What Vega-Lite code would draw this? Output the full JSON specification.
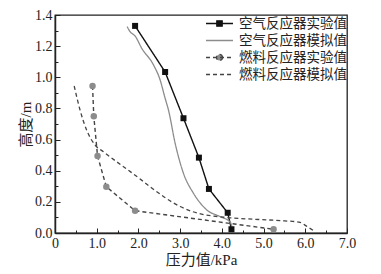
{
  "$schema": "https://vega.github.io/schema/vega-lite/v6.json",
  "width": 292,
  "height": 218,
  "autosize": {"type": "none"},
  "padding": {"left": 55, "top": 15, "right": 34, "bottom": 41},
  "background": "white",
  "config": {
    "view": {"stroke": "#222", "strokeWidth": 1.3},
    "axis": {
      "domainColor": "#222", "domainWidth": 1.5, "tickColor": "#222", "tickWidth": 1,
      "grid": false, "labelFont": "Liberation Serif", "labelFontSize": 14, "labelColor": "#222",
      "titleFont": "Liberation Serif, Noto Sans CJK SC", "titleFontSize": 15, "titleFontWeight": "normal", "titleColor": "#222"
    }
  },
  "data": {"values": [
    {"series": "空气反应器实验值", "p": 1.92, "h": 1.33},
    {"series": "空气反应器实验值", "p": 2.64, "h": 1.034},
    {"series": "空气反应器实验值", "p": 3.08, "h": 0.737},
    {"series": "空气反应器实验值", "p": 3.45, "h": 0.484},
    {"series": "空气反应器实验值", "p": 3.69, "h": 0.283},
    {"series": "空气反应器实验值", "p": 4.14, "h": 0.13},
    {"series": "空气反应器实验值", "p": 4.23, "h": 0.024},
    {"series": "空气反应器模拟值", "p": 1.73, "h": 1.325},
    {"series": "空气反应器模拟值", "p": 1.8, "h": 1.293},
    {"series": "空气反应器模拟值", "p": 1.92, "h": 1.265},
    {"series": "空气反应器模拟值", "p": 2.08, "h": 1.186},
    {"series": "空气反应器模拟值", "p": 2.36, "h": 1.08},
    {"series": "空气反应器模拟值", "p": 2.52, "h": 0.983},
    {"series": "空气反应器模拟值", "p": 2.64, "h": 0.865},
    {"series": "空气反应器模拟值", "p": 2.72, "h": 0.79},
    {"series": "空气反应器模拟值", "p": 2.88, "h": 0.576},
    {"series": "空气反应器模拟值", "p": 3.08, "h": 0.383},
    {"series": "空气反应器模拟值", "p": 3.32, "h": 0.255},
    {"series": "空气反应器模拟值", "p": 3.64, "h": 0.148},
    {"series": "空气反应器模拟值", "p": 3.96, "h": 0.105},
    {"series": "空气反应器模拟值", "p": 4.2, "h": 0.07},
    {"series": "空气反应器模拟值", "p": 4.25, "h": 0.03},
    {"series": "燃料反应器实验值", "p": 0.9, "h": 0.944},
    {"series": "燃料反应器实验值", "p": 0.93, "h": 0.75},
    {"series": "燃料反应器实验值", "p": 1.02, "h": 0.494},
    {"series": "燃料反应器实验值", "p": 1.23, "h": 0.297},
    {"series": "燃料反应器实验值", "p": 1.92, "h": 0.143},
    {"series": "燃料反应器实验值", "p": 5.24, "h": 0.024},
    {"series": "燃料反应器模拟值", "p": 0.46, "h": 0.944},
    {"series": "燃料反应器模拟值", "p": 0.6, "h": 0.79},
    {"series": "燃料反应器模拟值", "p": 0.76, "h": 0.66},
    {"series": "燃料反应器模拟值", "p": 0.96, "h": 0.565},
    {"series": "燃料反应器模拟值", "p": 1.16, "h": 0.522},
    {"series": "燃料反应器模拟值", "p": 2.04, "h": 0.347},
    {"series": "燃料反应器模拟值", "p": 2.28, "h": 0.297},
    {"series": "燃料反应器模拟值", "p": 3.0, "h": 0.17},
    {"series": "燃料反应器模拟值", "p": 3.3, "h": 0.137},
    {"series": "燃料反应器模拟值", "p": 4.1, "h": 0.1},
    {"series": "燃料反应器模拟值", "p": 4.8, "h": 0.088},
    {"series": "燃料反应器模拟值", "p": 5.5, "h": 0.078},
    {"series": "燃料反应器模拟值", "p": 5.85, "h": 0.07},
    {"series": "燃料反应器模拟值", "p": 6.05, "h": 0.04},
    {"series": "燃料反应器模拟值", "p": 6.2, "h": 0.015}
  ]},
  "encoding": {
    "x": {"field": "p", "type": "quantitative",
      "scale": {"domain": [0, 7], "nice": false},
      "axis": {"title": "压力值/kPa", "values": [0,0.5,1,1.5,2,2.5,3,3.5,4,4.5,5,5.5,6,6.5,7],
        "labelExpr": "datum.value === 0 ? '0' : (datum.value % 1 === 0 ? format(datum.value, '.1f') : '')",
        "tickSize": {"condition": {"test": "datum.value % 1 !== 0", "value": -3}, "value": -5},
        "labelPadding": 8, "titlePadding": 0, "labelFlush": false, "labelOverlap": false}},
    "y": {"field": "h", "type": "quantitative",
      "scale": {"domain": [0, 1.4], "nice": false},
      "axis": {"title": "高度/m", "values": [0,0.1,0.2,0.3,0.4,0.5,0.6,0.7,0.8,0.9,1,1.1,1.2,1.3,1.4],
        "labelExpr": "round(datum.value * 10) % 2 === 1 ? '' : format(datum.value, '.1f')",
        "tickSize": {"condition": {"test": "round(datum.value * 10) % 2 === 1", "value": -3}, "value": -5},
        "labelPadding": 8, "titlePadding": 1, "labelFlush": false, "labelOverlap": false}}
  },
  "layer": [
    {
      "transform": [{"filter": "indexof(datum.series, '实验值') >= 0"}],
      "mark": {"type": "line", "strokeWidth": 1.4},
      "encoding": {
        "color": {"field": "series", "type": "nominal",
          "scale": {"domain": ["空气反应器实验值", "空气反应器模拟值", "燃料反应器实验值", "燃料反应器模拟值"],
                    "range": ["#111111", "#8c8c8c", "#444444", "#444444"]},
          "legend": {
            "title": null, "orient": "none", "legendX": 157, "legendY": 1,
            "labelFont": "Noto Sans CJK SC", "labelFontSize": 13.5, "labelColor": "#222",
            "symbolSize": 182, "labelOffset": 12, "rowPadding": 3, "symbolStrokeWidth": 1.3,
            "encode": {"symbols": {"update": {
              "shape": {"signal": "datum.value === '空气反应器实验值' ? 'M-2,0H2M-0.4,-0.4H0.4V0.4H-0.4Z' : (datum.value === '燃料反应器实验值' ? 'M-2,0H2M0.45,0A0.45,0.45 0 1,1 -0.45,0A0.45,0.45 0 1,1 0.45,0Z' : 'M-2,0H2')"},
              "fill": {"signal": "datum.value === '空气反应器实验值' ? '#111111' : (datum.value === '燃料反应器实验值' ? '#8c8c8c' : 'transparent')"},
              "fillOpacity": {"value": 1}
            }}}
          }},
        "strokeDash": {"field": "series", "type": "nominal",
          "scale": {"domain": ["空气反应器实验值", "空气反应器模拟值", "燃料反应器实验值", "燃料反应器模拟值"],
                    "range": [[1, 0], [1, 0], [4, 3], [4, 3]]}}
      }
    },
    {
      "transform": [{"filter": "indexof(datum.series, '模拟值') >= 0"}],
      "mark": {"type": "line", "strokeWidth": 1.3, "interpolate": "monotone"},
      "encoding": {
        "color": {"field": "series", "type": "nominal"},
        "strokeDash": {"field": "series", "type": "nominal"}
      }
    },
    {
      "transform": [{"filter": "indexof(datum.series, '实验值') >= 0"}],
      "mark": {"type": "point", "filled": true, "opacity": 1},
      "encoding": {
        "shape": {"condition": {"test": "datum.series === '空气反应器实验值'", "value": "square"}, "value": "circle"},
        "size": {"condition": {"test": "datum.series === '空气反应器实验值'", "value": 36}, "value": 42},
        "fill": {"condition": {"test": "datum.series === '空气反应器实验值'", "value": "#111111"}, "value": "#8c8c8c"}
      }
    }
  ]
}
